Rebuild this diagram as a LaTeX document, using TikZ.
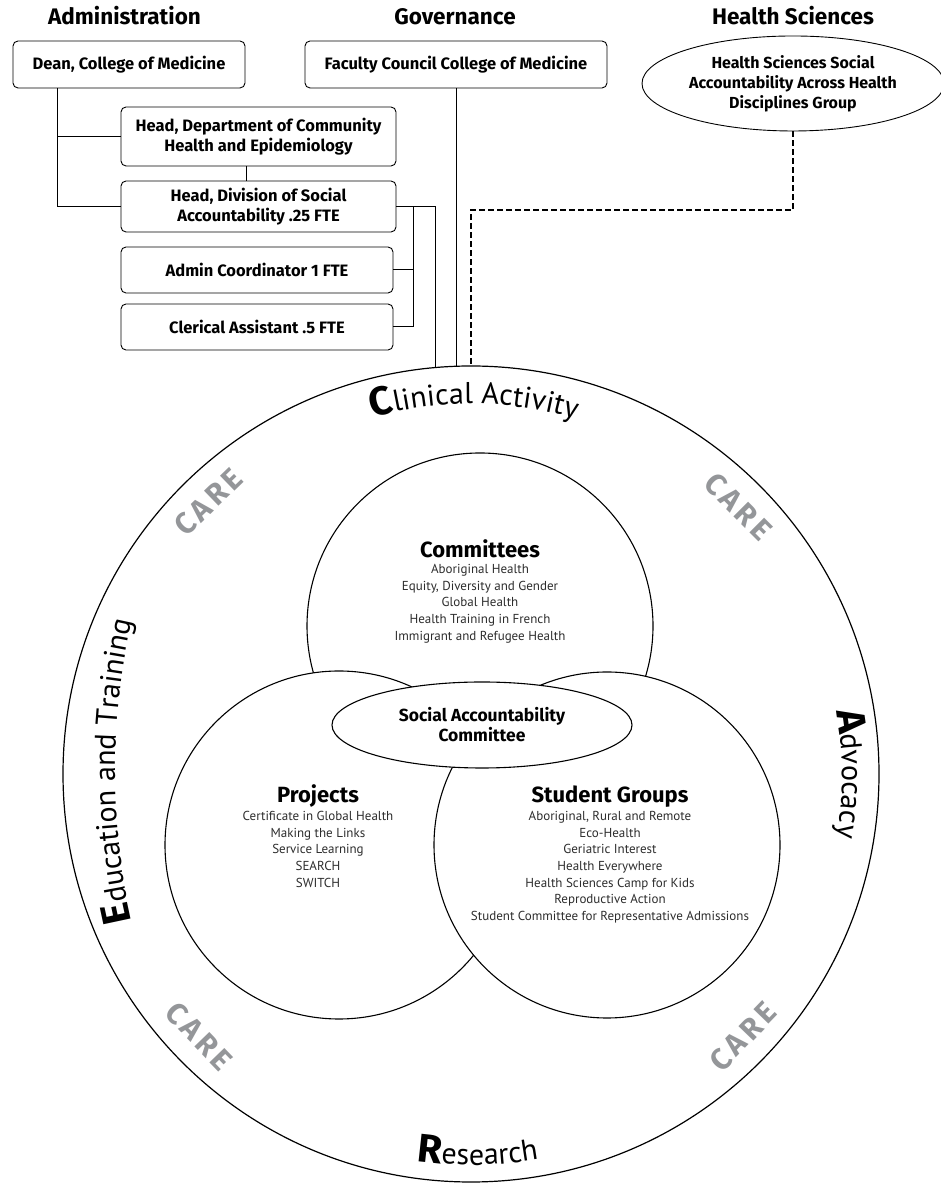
\documentclass[tikz,border=0pt]{standalone}
\usepackage{fontspec}
\setmainfont{PT Sans}
\newfontfamily\fb{Fira Sans}
\usetikzlibrary{shapes.geometric,decorations.text,calc}
\definecolor{caregray}{RGB}{148,150,153}
\definecolor{itemgray}{RGB}{45,45,45}
\begin{document}
\begin{tikzpicture}[x=1pt,y=1pt,
  hd/.style={font=\fontsize{22.5}{24}\selectfont\fb\bfseries, inner sep=0pt, anchor=base},
  orgbox/.style={draw, rounded corners=5pt, line width=0.9pt, align=center, font=\fontsize{16.5}{20}\selectfont\fb\bfseries, inner sep=0pt},
  conn/.style={line width=1pt},
  ring/.style={circle, draw, fill=white, line width=1.1pt, inner sep=0pt, outer sep=0pt},
  circhead/.style={font=\fontsize{22}{24}\selectfont\fb\bfseries, inner sep=0pt, anchor=base},
  items/.style={font=\fontsize{13}{16.7}\selectfont, text=itemgray, align=center, inner sep=0pt, anchor=north},
  care/.style={font=\fontsize{30}{30}\selectfont\fb\bfseries, text=caregray, inner sep=0pt},
]
\fill[white] (0,0) rectangle (940,1183);
\useasboundingbox (0,0) rectangle (940,1183);

% headings
\node[hd] (hadm) at (124.5,1158) {Administration};
\node[hd] (hgov) at (455,1158) {Governance};
\node[hd] (hhs) at (793,1158) {Health Sciences};

% org boxes
\node[orgbox, minimum width=232pt, minimum height=47pt] (dean) at (129,1118.5) {Dean, College of Medicine};
\node[orgbox, minimum width=302pt, minimum height=47pt] (fac) at (456,1118.5) {Faculty Council College of Medicine};
\node[orgbox, minimum width=275pt, minimum height=59pt] (hdept) at (258.5,1046.5) {Head, Department of Community\\Health and Epidemiology};
\node[orgbox, minimum width=275pt, minimum height=51pt] (hdiv) at (258.5,976.5) {Head, Division of Social\\Accountability .25 FTE};
\node[orgbox, minimum width=272pt, minimum height=46pt] (admin) at (257,913) {Admin Coordinator 1 FTE};
\node[orgbox, minimum width=272pt, minimum height=46pt] (cler) at (257,856) {Clerical Assistant .5 FTE};
\node[ellipse, draw, line width=0.9pt, minimum width=302pt, minimum height=95pt, inner sep=0pt, align=center, font=\fontsize{16}{20}\selectfont\fb\bfseries] (hsg) at (793,1099.5) {Health Sciences Social\\Accountability Across Health\\Disciplines Group};

% circles
\node[ring, minimum size=816pt, line width=1.2pt] (big) at (471,409) {};
\node[ring, minimum size=346pt] (ctop) at (480,557) {};
\node[ring, minimum size=348pt] (cleft) at (339,338) {};
\node[ring, minimum size=346pt] (cright) at (607,338) {};
\node[ellipse, draw, fill=white, line width=1.1pt, minimum width=300pt, minimum height=86pt, inner sep=0pt, align=center, font=\fontsize{17.5}{20}\selectfont\fb\bfseries] (sac) at (482,458) {Social Accountability\\Committee};

% connectors
\coordinate (dj) at (57,976.5);
\draw[conn] (dean.south -| dj) -- (dj |- hdiv.west) -- (hdiv.west);
\draw[conn] (dj |- hdept.west) -- (hdept.west);
\draw[conn] ([xshift=-12pt]hdept.south) -- ([xshift=-12pt]hdept.south |- hdiv.north);
\draw[conn] (hdiv.east) -| (big.95.2);
\coordinate (bx) at (413,976.5);
\draw[conn] (bx |- hdiv.east) -- (bx |- cler.east) -- (cler.east);
\draw[conn] (admin.east) -- (admin.east -| bx);
\draw[conn] (fac.south -| big.92.5) -- (big.92.5);
\coordinate (dturn) at (796,973);
\draw[conn, line width=1.4pt, dash pattern=on 6pt off 3pt] (hsg.south) |- (big.90.1 |- dturn) -- (big.90.1);

% circle contents
\node[circhead] (comh) at (480,625) {Committees};
\node[items] (comi) at (480,619) {Aboriginal Health\\Equity, Diversity and Gender\\Global Health\\Health Training in French\\Immigrant and Refugee Health};
\node[circhead] (proh) at (318,380) {Projects};
\node[items] (proi) at (318,372) {Certificate in Global Health\\Making the Links\\Service Learning\\SEARCH\\SWITCH};
\node[circhead] (stuh) at (610,380) {Student Groups};
\node[items] (stui) at (610,372) {Aboriginal, Rural and Remote\\Eco-Health\\Geriatric Interest\\Health Everywhere\\Health Sciences Camp for Kids\\Reproductive Action\\Student Committee for Representative Admissions};

% curved labels on the big ring
\path (big.center) ++(150:370) coordinate (clA);
\path[decorate, decoration={text along path, text align=center,
  text={|\fontsize{40}{40}\selectfont\fb\bfseries|C|\fontsize{30}{30}\selectfont\rmfamily\mdseries|linical Activity}}]
  (clA) arc[start angle=150, end angle=29, radius=370];
\path (big.center) ++(240:391) coordinate (reA);
\path[decorate, decoration={text along path, text align=center,
  text={|\fontsize{40}{40}\selectfont\fb\bfseries|R|\fontsize{30}{30}\selectfont\rmfamily\mdseries|esearch}}]
  (reA) arc[start angle=240, end angle=302, radius=391];
\coordinate (edC) at (785,412);
\path (edC) ++(200:670) coordinate (edA);
\path[decorate, decoration={text along path, text align=center,
  text={|\fontsize{40}{40}\selectfont\fb\bfseries|E|\fontsize{30}{30}\selectfont\rmfamily\mdseries|ducation and Training}}]
  (edA) arc[start angle=200, end angle=160, radius=670];
\path (big.center) ++(25:371) coordinate (adA);
\path[decorate, decoration={text along path, text align=center,
  text={|\fontsize{40}{40}\selectfont\fb\bfseries|A|\fontsize{30}{30}\selectfont\rmfamily\mdseries|dvocacy}}]
  (adA) arc[start angle=25, end angle=-25, radius=371];

% CARE labels
\node[care, rotate=44] (care1) at ($(big.center)+(134:378)$) {C\hspace{4pt}A\hspace{4pt}R\hspace{4pt}E};
\node[care, rotate=-45] (care2) at ($(big.center)+(45:378)$) {C\hspace{4pt}A\hspace{4pt}R\hspace{4pt}E};
\node[care, rotate=-46] (care3) at ($(big.center)+(224:378)$) {C\hspace{4pt}A\hspace{4pt}R\hspace{4pt}E};
\node[care, rotate=46] (care4) at ($(big.center)+(316:378)$) {C\hspace{4pt}A\hspace{4pt}R\hspace{4pt}E};
\end{tikzpicture}
\end{document}
